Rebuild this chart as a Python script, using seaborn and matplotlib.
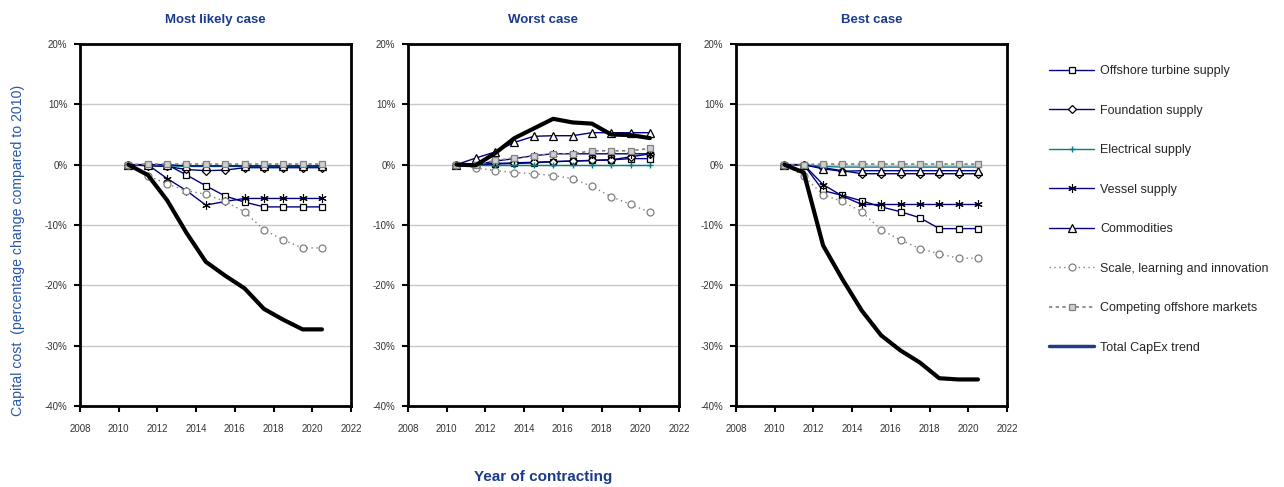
import matplotlib
matplotlib.use("Agg")
import matplotlib.pyplot as plt
import matplotlib.ticker as mticker
from matplotlib.lines import Line2D
import numpy as np
import pandas as pd
import seaborn as sns

# --- data (percentage change compared to 2010) ---
years = [2010.5, 2011.5, 2012.5, 2013.5, 2014.5, 2015.5, 2016.5, 2017.5, 2018.5, 2019.5, 2020.5]

series_names = ['Offshore turbine supply', 'Foundation supply', 'Electrical supply',
                'Vessel supply', 'Commodities', 'Scale, learning and innovation',
                'Competing offshore markets', 'Total CapEx trend']

panel_titles = ['Most likely case', 'Worst case', 'Best case']

ml_turbine = [0, 0, 0, -1.7, -3.5, -5.2, -6.2, -7.0, -7.0, -7.0, -7.0]
ml_foundation = [0, -0.2, -0.3, -0.8, -1.0, -0.9, -0.5, -0.5, -0.5, -0.5, -0.5]
ml_electrical = [0, 0, -0.2, -0.3, -0.3, -0.3, -0.3, -0.3, -0.3, -0.3, -0.3]
ml_vessel = [0, 0, -2.3, -4.3, -6.7, -6.1, -5.6, -5.6, -5.6, -5.6, -5.6]
ml_commodities = [0, 0, 0, -0.2, -0.2, -0.2, -0.2, -0.2, -0.2, -0.2, -0.2]
ml_scale = [0, -1.8, -3.2, -4.3, -4.9, -6.1, -7.8, -10.8, -12.5, -13.8, -13.8]
ml_competing = [0, 0.1, 0.1, 0.1, 0.1, 0.1, 0.1, 0.1, 0.1, 0.1, 0.1]
ml_total = [0, -1.7, -5.9, -11.3, -16.1, -18.4, -20.5, -23.9, -25.7, -27.3, -27.3]

w_turbine = [0, 0, 0.1, 0.2, 0.3, 0.5, 0.6, 0.7, 0.8, 1.0, 1.0]
w_foundation = [0, 0, 0.2, 0.3, 0.4, 0.5, 0.6, 0.7, 0.8, 1.3, 1.8]
w_electrical = [0, 0, 0, 0, 0, 0, 0, 0, 0, 0, 0]
w_vessel = [0, 0, 0.6, 1.0, 1.5, 1.8, 1.8, 1.8, 1.8, 1.8, 1.8]
w_commodities = [0, 1.1, 2.1, 3.7, 4.7, 4.8, 4.8, 5.3, 5.3, 5.3, 5.3]
w_scale = [0, -0.5, -1.0, -1.3, -1.5, -1.8, -2.3, -3.6, -5.3, -6.6, -7.9]
w_competing = [0, 0, 0.7, 1.1, 1.5, 1.8, 1.8, 2.3, 2.3, 2.3, 2.7]
w_total = [0, -0.1, 1.9, 4.4, 6.0, 7.6, 7.0, 6.8, 5.0, 4.9, 4.4]

b_turbine = [0, 0, -4.3, -5.1, -6.0, -7.0, -7.8, -8.8, -10.6, -10.6, -10.6]
b_foundation = [0, 0, -0.5, -1.0, -1.5, -1.5, -1.5, -1.5, -1.5, -1.5, -1.5]
b_electrical = [0, 0, -0.3, -0.4, -0.4, -0.4, -0.4, -0.4, -0.4, -0.4, -0.4]
b_vessel = [0, 0, -3.3, -5.2, -6.6, -6.6, -6.6, -6.6, -6.6, -6.6, -6.6]
b_commodities = [0, 0, -0.7, -1.1, -1.0, -1.0, -1.0, -1.0, -1.0, -1.0, -1.0]
b_scale = [0, -1.9, -5.0, -6.1, -7.8, -10.8, -12.5, -13.9, -14.8, -15.5, -15.5]
b_competing = [0, 0, 0.1, 0.1, 0.1, 0.1, 0.1, 0.1, 0.1, 0.1, 0.1]
b_total = [0, -1.3, -13.4, -19.0, -24.2, -28.3, -30.8, -32.8, -35.4, -35.6, -35.6]

panels = [
    [ml_turbine, ml_foundation, ml_electrical, ml_vessel, ml_commodities, ml_scale, ml_competing, ml_total],
    [w_turbine, w_foundation, w_electrical, w_vessel, w_commodities, w_scale, w_competing, w_total],
    [b_turbine, b_foundation, b_electrical, b_vessel, b_commodities, b_scale, b_competing, b_total],
]

# --- styling ---
sns.set_theme(style="white")
plt.rcParams['font.family'] = ['Liberation Sans', 'DejaVu Sans']

NAVY = '#000080'
TEAL = '#008080'
GREY = '#808080'
TITLE_BLUE = '#1A3A8C'
LABEL_BLUE = '#2A56A8'

styles = {
    'Offshore turbine supply': dict(color=NAVY, lw=1.0, ls='-', marker='s', ms=5,
                                    markerfacecolor='white', markeredgecolor='black', mew=0.9),
    'Foundation supply': dict(color=NAVY, lw=1.0, ls='-', marker='D', ms=4,
                              markerfacecolor='white', markeredgecolor='black', mew=0.9),
    'Electrical supply': dict(color=TEAL, lw=1.0, ls='-', marker='+', ms=5,
                              markerfacecolor=TEAL, markeredgecolor=TEAL, mew=1.0),
    'Vessel supply': dict(color=NAVY, lw=1.0, ls='-', marker=(6, 2, 0), ms=6,
                          markerfacecolor='black', markeredgecolor='black', mew=0.8),
    'Commodities': dict(color=NAVY, lw=1.0, ls='-', marker='^', ms=5.5,
                        markerfacecolor='white', markeredgecolor='black', mew=0.9),
    'Scale, learning and innovation': dict(color=GREY, lw=1.0, ls=(0, (1, 2.5)), marker='o', ms=5,
                                           markerfacecolor='white', markeredgecolor=GREY, mew=0.9),
    'Competing offshore markets': dict(color=GREY, lw=1.2, ls=(0, (2, 2)), marker='s', ms=5,
                                       markerfacecolor='#D0D0D0', markeredgecolor=GREY, mew=0.9),
    'Total CapEx trend': dict(color='black', lw=3.0, ls='-', marker=None),
}

fig = plt.figure(figsize=(12.84, 4.87), dpi=100)
W, H = 1284, 487
lefts = [80, 408, 736]
ax_w, top, bottom = 271, 44, 406

axes = []
for i, (left, title) in enumerate(zip(lefts, panel_titles)):
    ax = fig.add_axes([left / W, 1 - bottom / H, ax_w / W, (bottom - top) / H])
    axes.append(ax)
    for name, values in zip(series_names, panels[i]):
        df = pd.DataFrame({'Year': years, 'Change': values})
        sns.lineplot(data=df, x='Year', y='Change', ax=ax, label=name,
                     legend=False, **styles[name])
    ax.set_xlim(2008, 2022)
    ax.set_ylim(-40, 20)
    ax.xaxis.set_major_locator(mticker.MultipleLocator(2))
    ax.yaxis.set_major_locator(mticker.MultipleLocator(10))
    ax.yaxis.set_major_formatter(mticker.FuncFormatter(lambda v, p: f"{v:.0f}%"))
    ax.grid(axis='y', color='#C8C8C8', lw=1.0)
    ax.set_axisbelow(True)
    for sp in ax.spines.values():
        sp.set_visible(True)
        sp.set_color('black')
        sp.set_linewidth(2.0)
    ax.tick_params(axis='both', direction='out', length=4, width=1.5, color='black',
                   labelsize=7, labelcolor='#333333', bottom=True, left=True)
    ax.tick_params(axis='x', pad=9)
    ax.tick_params(axis='y', pad=5)
    ax.set_xlabel('')
    ax.set_ylabel('')
    ax.set_title(title, fontsize=9.5, fontweight='bold', color=TITLE_BLUE, pad=15)

fig.text(18 / W, 1 - 250 / H, 'Capital cost  (percentage change compared to 2010)', rotation=90,
         ha='center', va='center', fontsize=10.2, color=LABEL_BLUE)
fig.text(543 / W, 1 - 477 / H, 'Year of contracting', ha='center', va='center',
         fontsize=11, fontweight='bold', color=TITLE_BLUE)

# --- legend ---
handles = []
for name in series_names[:-1]:
    st = dict(styles[name])
    handles.append(Line2D([], [], color=st.pop('color'), lw=st.pop('lw'), ls=st.pop('ls'), **st))
handles.append(Line2D([], [], color='#1F3C88', lw=2.5))
fig.legend(handles, series_names, loc='upper left', bbox_to_anchor=(1038 / W, 1 - 54 / H),
           frameon=False, fontsize=9, handlelength=3.6, labelspacing=2.2, handletextpad=0.5)

fig.savefig('out.png', dpi=100)
